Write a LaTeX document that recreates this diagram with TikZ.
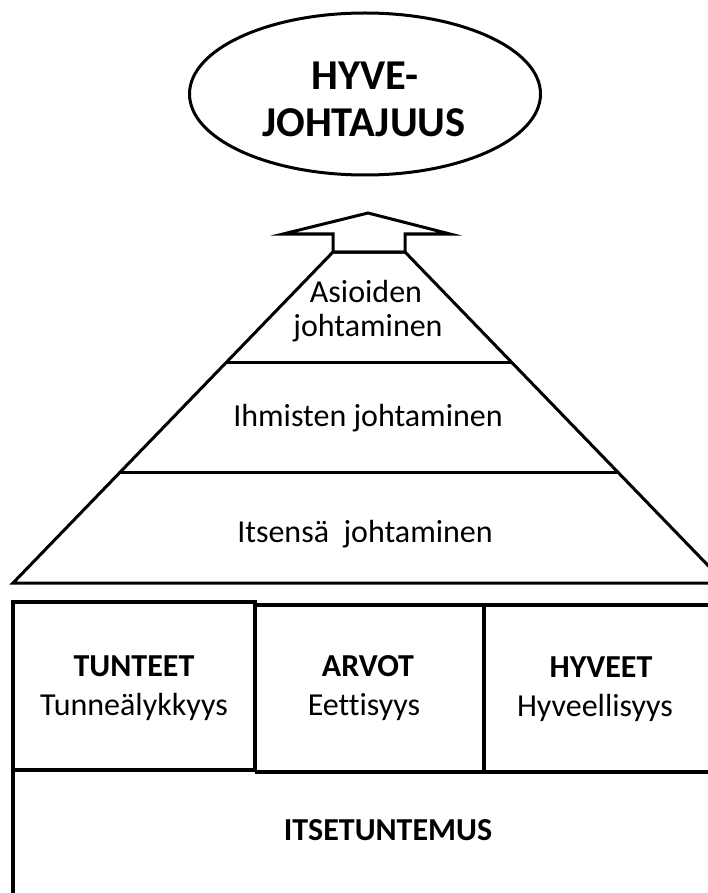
\documentclass[tikz,border=0pt]{standalone}
\usepackage{fontspec}
\setmainfont{Carlito}[Ligatures=NoCommon]
\usetikzlibrary{shapes.geometric}
\begin{document}
\begin{tikzpicture}[x=1pt, y=-1pt, line join=miter,
  outline/.style={draw=black, line width=3pt},
  boxline/.style={draw=black, line width=3.8pt},
  txt/.style={anchor=base, inner sep=0pt, font=\fontsize{32}{38}\selectfont},
  hdtxt/.style={anchor=base, inner sep=0pt, font=\fontsize{32}{38}\selectfont\bfseries},
  goaltxt/.style={anchor=base, inner sep=0pt, font=\fontsize{42.5}{48}\selectfont\bfseries}]
\useasboundingbox (0,0) rectangle (708,893);
\clip (0,0) rectangle (708,893);

% goal ellipse
\node[ellipse, outline, minimum width=351pt, minimum height=162pt, inner sep=0pt] (goal) at (365,94) {};
\node[goaltxt] (goal1) at (365,90) {HYVE-};
\node[goaltxt] (goal2) at (364,137) {JOHTAJUUS};

% pyramid corners
\coordinate (apexL) at (333,252);
\coordinate (apexR) at (405,252);
\coordinate (baseL) at (13,583);
\coordinate (baseR) at (725,583);

% upward block arrow on top of the pyramid
\draw[outline, fill=white] (368,213) -- (450,234) -- (405,234) -- (apexR)
  -- (apexL) -- (333,234) -- (283,234) -- cycle;

% pyramid outline and tiers
\draw[outline] (baseL) -- (apexL) -- (apexR) -- (baseR) -- cycle;
\draw[outline] (226.7,362) -- (511.3,362);
\draw[outline] (120.3,472) -- (617.7,472);

\node[txt] (t1a) at (366,302) {Asioiden};
\node[txt] (t1b) at (368,336) {johtaminen};
\node[txt] (t2) at (368,426) {Ihmisten johtaminen};
\node[txt] (t3) at (365,542) {Itsensä\ \ johtaminen};

% foundation boxes
\draw[boxline] (13,602) rectangle (255,770);
\draw[boxline] (255,605) -- (720,605);
\draw[boxline] (255,772) -- (720,772);
\draw[boxline] (484,605) -- (484,772);
\draw[boxline] (13,770) -- (13,900);

\node[hdtxt] (b1h) at (134,676) {TUNTEET};
\node[txt] (b1t) at (134,715) {Tunneälykkyys};
\node[hdtxt] (b2h) at (368,676) {ARVOT};
\node[txt] (b2t) at (364,715) {Eettisyys};
\node[hdtxt] (b3h) at (601,677) {HYVEET};
\node[txt] (b3t) at (595,716) {Hyveellisyys};
\node[hdtxt] (b4h) at (388,840) {ITSETUNTEMUS};
\end{tikzpicture}
\end{document}
